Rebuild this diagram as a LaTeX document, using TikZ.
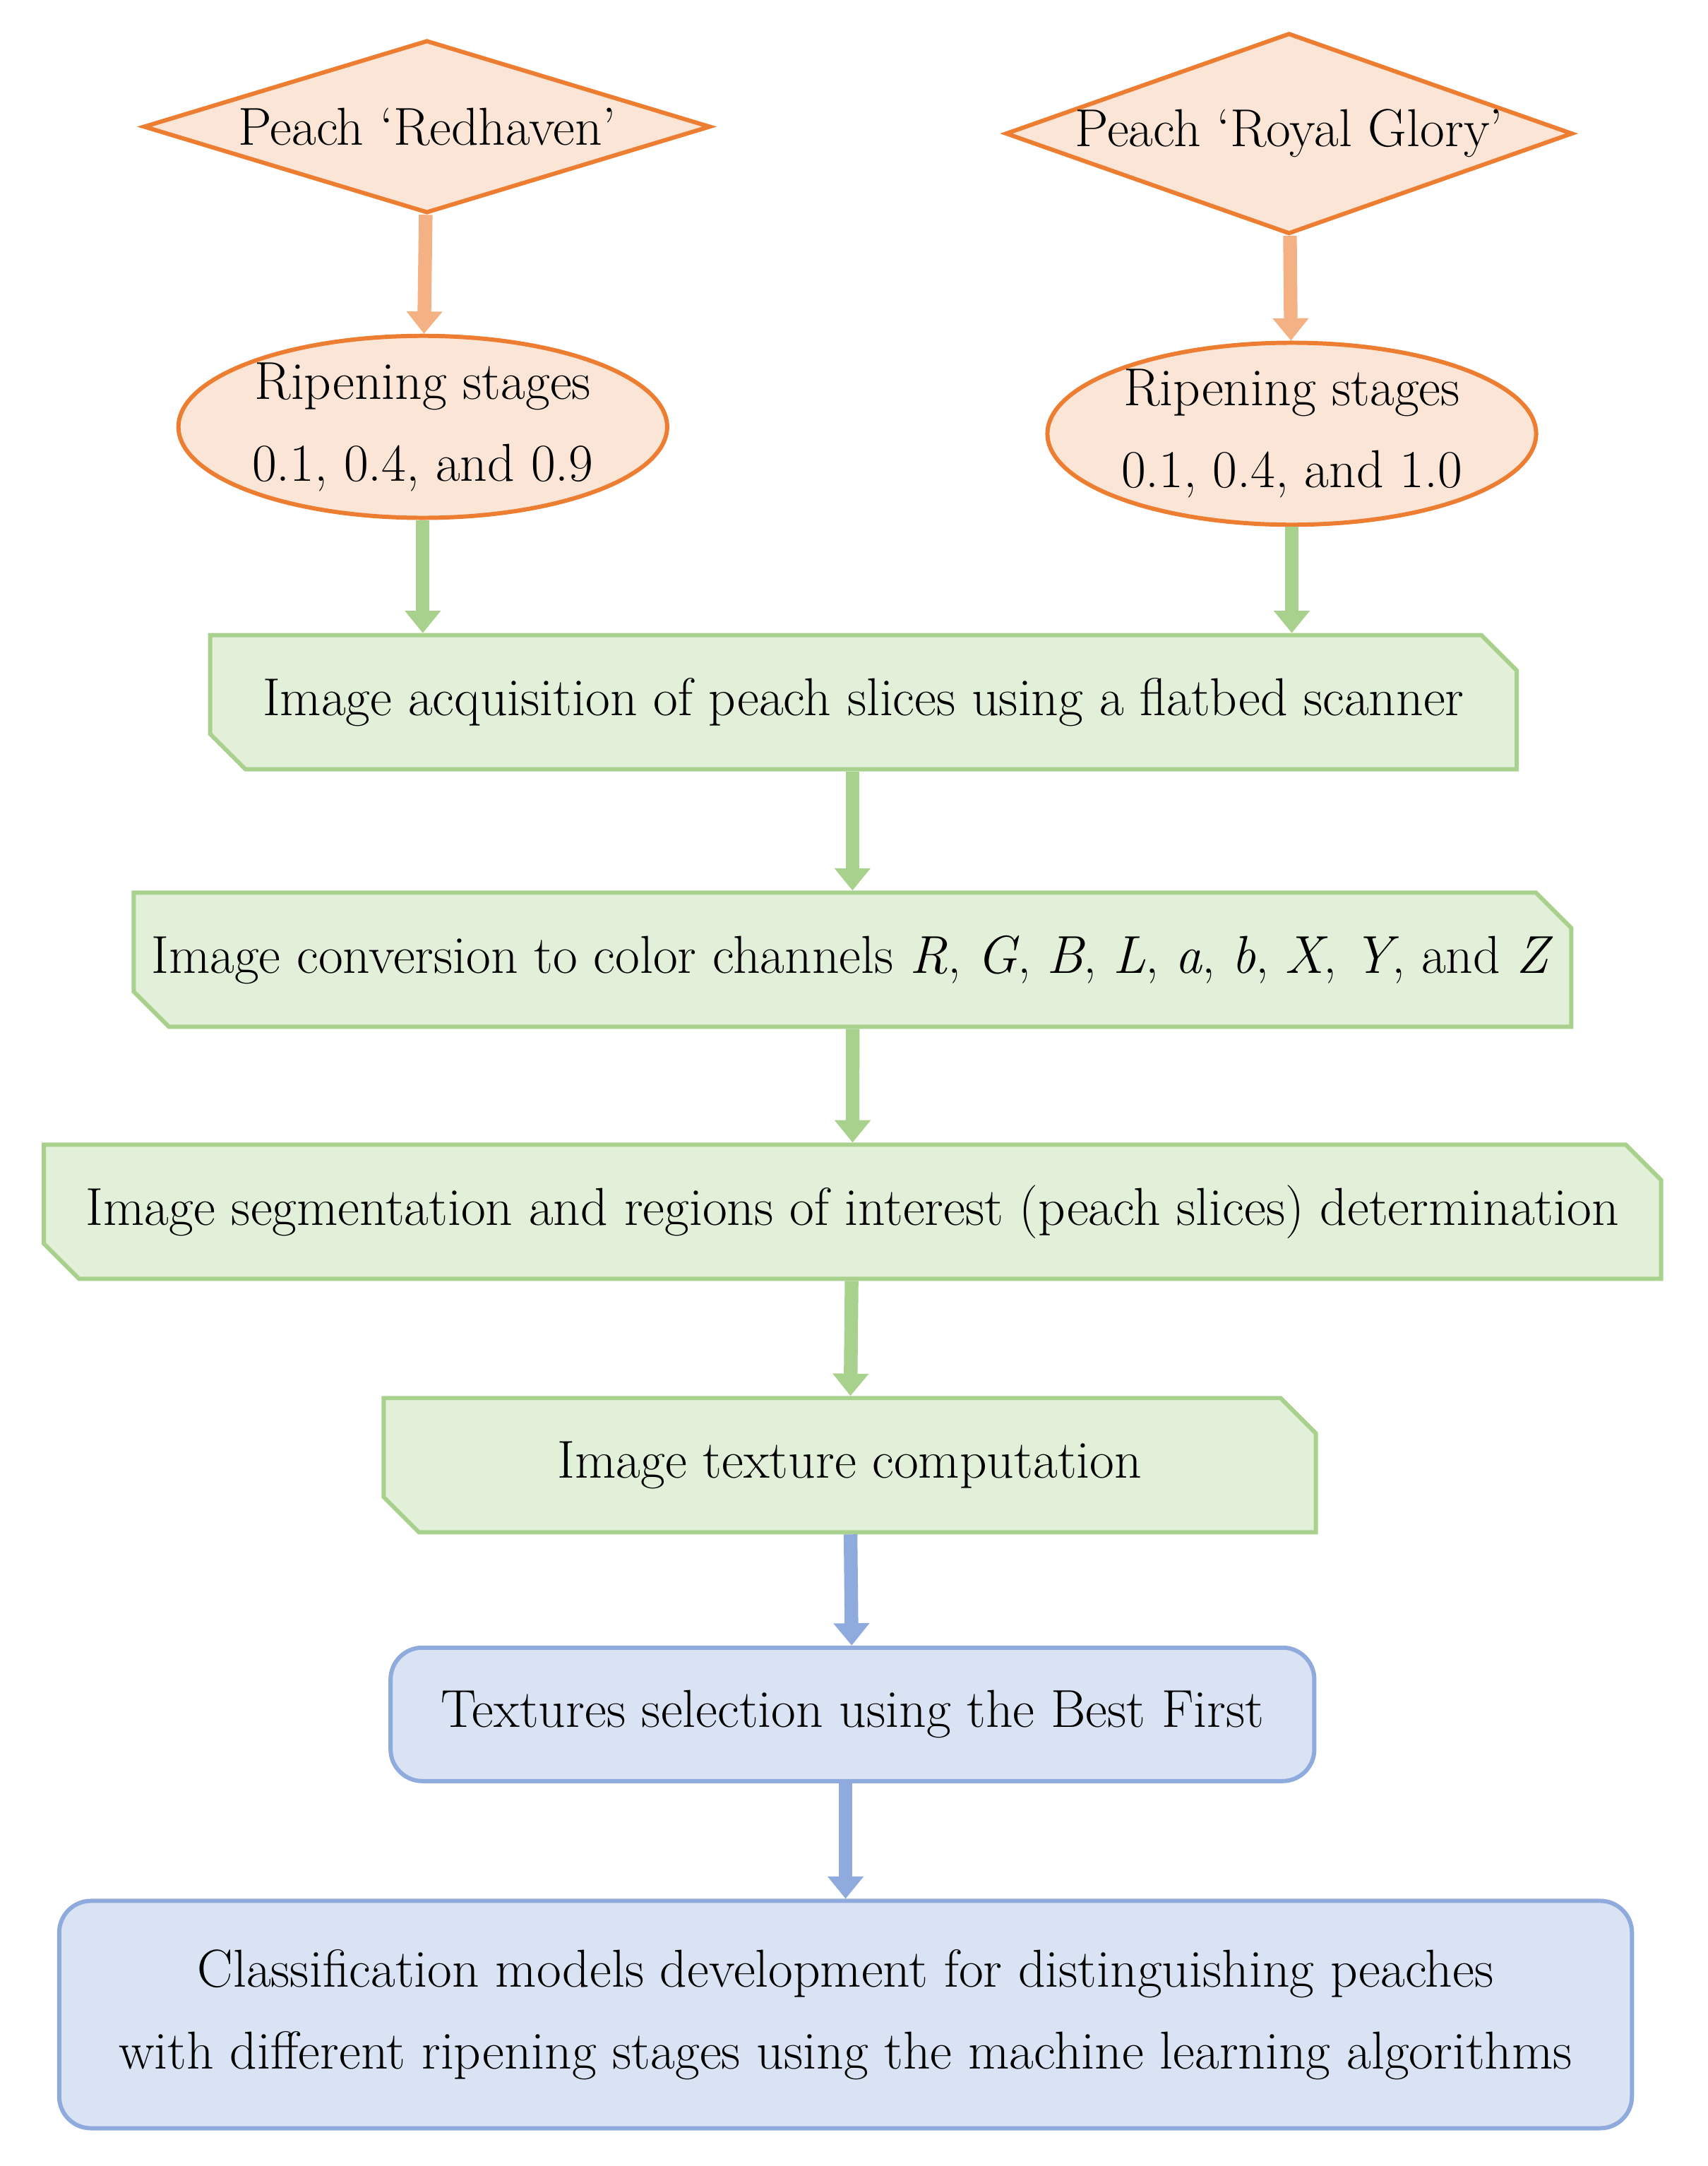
\documentclass[tikz,border=0pt]{standalone}
\usepackage{tikz}
\usetikzlibrary{shapes.geometric,shapes.misc,arrows.meta}
\definecolor{orline}{HTML}{ED7D31}
\definecolor{orfill}{HTML}{FBE5D6}
\definecolor{orarrow}{HTML}{F4B183}
\definecolor{grline}{HTML}{A9D18E}
\definecolor{grfill}{HTML}{E2F0D9}
\definecolor{blline}{HTML}{8FAADC}
\definecolor{blfill}{HTML}{DAE3F3}
\tikzstyle{variety} = [diamond,shape aspect=2.8,minimum width=8.03cm,inner sep=0pt,text centered,draw=orline,fill=orfill,line width=1.7pt]
\tikzstyle{stage} = [ellipse,minimum width=6.92cm,minimum height=2.54cm,inner sep=0pt,text centered,draw=orline,fill=orfill,line width=1.7pt,align=center]
\tikzstyle{imgstep} = [chamfered rectangle,chamfered rectangle corners={north east,south west},chamfered rectangle xsep=0.25cm,chamfered rectangle ysep=0.25cm,inner xsep=0pt,minimum height=1.9cm,text centered,draw=grline,fill=grfill,line width=1.7pt]
\tikzstyle{model} = [rectangle,rounded corners=0.45cm,minimum height=1.89cm,text centered,draw=blline,fill=blfill,line width=1.7pt,align=center]
\tikzstyle{arrow} = [line width=5.5pt,-{Triangle[length=9pt,width=14pt]}]

\begin{document}
\begin{tikzpicture}[x=0.0195cm,y=-0.0195cm,font=\fontsize{21.5}{33}\selectfont]
\useasboundingbox (0,0) rectangle (1240,1573);

\node(redhaven) [variety] at (310,92) {Peach `Redhaven'};
\node(royal) [variety] at (936,97) {Peach `Royal Glory'};
\node(stage1) [stage] at (307,310) {Ripening stages\\0.1, 0.4, and 0.9};
\node(stage2) [stage] at (938,315) {Ripening stages\\0.1, 0.4, and 1.0};
\node(acq) [imgstep, minimum width=18.5cm] at (627,510) {Image acquisition of peach slices using a flatbed scanner};
\node(conv) [imgstep, minimum width=20.0cm] at (619,697) {Image conversion to color channels \textit{R}, \textit{G}, \textit{B}, \textit{L}, \textit{a}, \textit{b}, \textit{X}, \textit{Y}, and \textit{Z}};
\node(segm) [imgstep, minimum width=22.9cm] at (619,880) {Image segmentation and regions of interest (peach slices) determination};
\node(texture) [imgstep, minimum width=13.2cm] at (617,1064) {Image texture computation};
\node(select) [model, minimum width=13.08cm] at (619,1245) {Textures selection using the Best First};
\node(classif) [model, minimum width=22.27cm, minimum height=3.22cm] at (614,1463) {Classification models development for distinguishing peaches\\with different ripening stages using the machine learning algorithms};

\draw [arrow,orarrow] (redhaven) -- (stage1);
\draw [arrow,orarrow] (royal) -- (stage2);
\draw [arrow,grline] (stage1.south) -- (stage1.south |- acq.north);
\draw [arrow,grline] (stage2.south) -- (stage2.south |- acq.north);
\draw [arrow,grline] (acq.south -| conv.north) -- (conv.north);
\draw [arrow,grline] (conv) -- (segm);
\draw [arrow,grline] (segm) -- (texture);
\draw [arrow,blline] (texture) -- (select);
\draw [arrow,blline] (select.south -| classif.north) -- (classif.north);

\end{tikzpicture}
\end{document}
